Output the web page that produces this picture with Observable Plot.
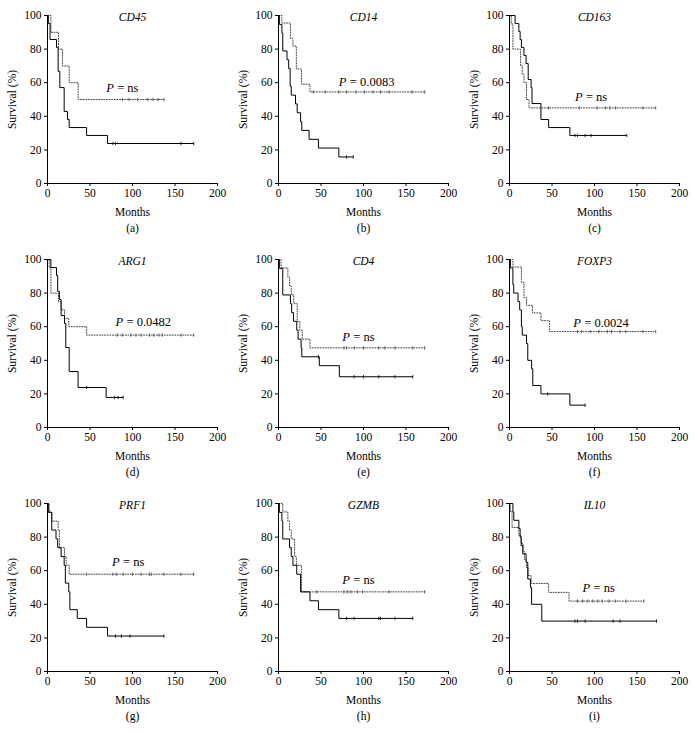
<!DOCTYPE html>
<html>
<head>
<meta charset="utf-8">
<script src="https://cdn.jsdelivr.net/npm/d3@7"></script>
<script src="https://cdn.jsdelivr.net/npm/@observablehq/plot@0.6"></script>
<style>
  html, body { margin: 0; padding: 0; background: #fff; }
  #grid { display: grid; grid-template-columns: 231px 231px 232px; grid-auto-rows: 244px; width: 694px; }
  #grid svg { display: block; }
</style>
</head>
<body>
<div id="grid"></div>
<script>
// ---- Data (months, survival %) ----
const genes = ["CD45", "CD14", "CD163", "ARG1", "CD4", "FOXP3", "PRF1", "GZMB", "IL10"];
const captions = ["(a)", "(b)", "(c)", "(d)", "(e)", "(f)", "(g)", "(h)", "(i)"];
const pValues = ["ns", "0.0083", "ns", "0.0482", "ns", "0.0024", "ns", "ns", "ns"];
// annotation anchor (data units: months, %)
const pLabelX = [69, 71, 77, 80, 75, 75, 76, 75, 86];
const pLabelY = [56, 60, 51, 62, 53, 61.5, 64.5, 54, 49];

// solid curve (event times, survival after each event, last follow-up, censored times)
const solidTimes = [
  [1, 3, 10.6, 12.5, 14.5, 19.6, 23.5, 25.5, 46, 70.6],
  [1, 4, 5, 10, 12, 13.7, 15, 20, 22, 26, 27.4, 36, 47, 71],
  [6.6, 11, 12.5, 14, 17, 19.5, 22, 25.4, 26.5, 37, 46, 71],
  [4, 10.6, 12, 14, 16, 20, 21.5, 25.5, 36, 69],
  [1, 5, 14, 15.5, 17.6, 21.5, 23, 26.6, 27.4, 48, 71.6],
  [1, 4, 5, 10, 12, 14, 15, 20, 21.5, 26, 27.4, 37, 71],
  [1, 5, 10, 12, 16, 19.6, 21, 25, 26.3, 35, 46, 70.6],
  [1, 4, 5, 13, 15, 17, 21.5, 26, 37, 47, 71],
  [4, 5, 11, 12.5, 13.7, 15.6, 19.5, 21.5, 24.6, 26, 38]
];
const solidSurv = [
  [95.2, 85.7, 81, 66.7, 57.1, 42.9, 38.1, 33.3, 28.6, 23.8],
  [94.7, 89.5, 78.9, 73.7, 68.4, 57.9, 52.6, 47.4, 42.1, 36.8, 31.6, 26.3, 21.1, 15.8],
  [95.2, 90.5, 85.7, 81, 76.2, 71.4, 61.9, 57.1, 47.6, 38.1, 33.3, 28.6],
  [95.2, 90.5, 81, 76.2, 66.7, 61.9, 47.6, 33.3, 23.8, 17.9],
  [94.7, 78.9, 73.7, 68.4, 63.2, 57.9, 52.6, 47.4, 42.1, 36.8, 30.2],
  [95, 85, 80, 75, 70, 60, 55, 50, 40, 35, 25, 20, 13.3],
  [94.7, 84.2, 78.9, 73.7, 68.4, 63.2, 52.6, 47.4, 36.8, 31.6, 26.3, 21.1],
  [94.7, 89.5, 78.9, 73.7, 68.4, 63.2, 57.9, 47.4, 42.1, 36.8, 31.6],
  [95, 90, 85, 80, 75, 70, 65, 55, 50, 40, 30]
];
const solidEnd = [172, 88, 138, 89, 158, 89, 137, 158, 173];
const solidCensor = [
  [77, 80, 157, 172],
  [80, 88],
  [77, 80, 89, 96, 138],
  [46, 79, 83, 89],
  [47, 89, 100, 118, 137, 158],
  [45, 89],
  [80, 87, 97, 137],
  [80, 89, 118, 120, 137, 158],
  [77, 80, 89, 122, 130, 173]
];

// dotted curve
const dottedTimes = [
  [4, 13, 17.6, 25.5, 36],
  [4, 14, 17, 21, 27, 37],
  [2, 4, 13, 15, 17, 20, 23],
  [2, 4, 13, 16, 20, 25, 46],
  [3, 11, 13, 15, 18, 22, 25, 28, 37],
  [4, 14, 17, 20, 27, 37, 47],
  [2, 5, 12.5, 14, 20, 22, 25.5],
  [5, 11, 13, 15, 19, 21, 27],
  [1, 3, 11, 13.7, 16, 17.6, 20, 22, 25.4, 46, 70]
];
const dottedSurv = [
  [90, 80, 70, 60, 50],
  [95.5, 86.4, 81.8, 68.2, 59.1, 54.5],
  [95, 80, 70, 65, 60, 50, 45],
  [95, 80, 75, 70, 65, 60, 55],
  [95, 89.5, 84.2, 78.9, 73.7, 63.2, 57.9, 52.6, 47.4],
  [95.5, 86.4, 77.3, 72.7, 68.2, 63.6, 57.1],
  [95, 89.5, 84.2, 73.7, 68.4, 63.2, 57.9],
  [95, 89.5, 84.2, 78.9, 68.4, 63.2, 47.4],
  [95.2, 85.7, 81, 76.2, 71.4, 66.7, 61.9, 57.1, 52.4, 47.1, 41.9]
];
const dottedEnd = [137, 172, 172, 172, 172, 172, 172, 172, 158];
const dottedCensor = [
  [88, 96, 106, 118, 124, 130, 137],
  [41, 55, 71, 80, 91, 101, 111, 120, 130, 157, 172],
  [46, 82, 103, 113, 118, 125, 157, 172],
  [82, 88, 98, 104, 110, 120, 125, 131, 135, 157, 172],
  [77, 80, 89, 100, 118, 125, 137, 158, 172],
  [80, 85, 95, 105, 115, 120, 130, 137, 157, 172],
  [46, 77, 81, 89, 100, 110, 120, 122, 137, 157, 172],
  [45, 77, 81, 85, 93, 99, 130, 172],
  [80, 86, 92, 98, 104, 109, 117, 125, 137, 158]
];

const xTicks = [0, 50, 100, 150, 200];
const yTicks = [0, 20, 40, 60, 80, 100];

// ---- helpers ----
function stepPoints(times, surv, end) {
  const pts = [{t: 0, s: 100}];
  times.forEach((t, i) => pts.push({t, s: surv[i]}));
  pts.push({t: end, s: surv[surv.length - 1]});
  return pts;
}
function survAt(times, surv, t) {
  let s = 100;
  for (let i = 0; i < times.length; i++) if (times[i] <= t) s = surv[i];
  return s;
}
const censorTick = {
  draw(context, size) {
    const h = Math.sqrt(size / Math.PI);
    context.moveTo(0, -h);
    context.lineTo(0, h);
  }
};

const grid = document.getElementById("grid");
genes.forEach((gene, k) => {
  const solid = stepPoints(solidTimes[k], solidSurv[k], solidEnd[k]);
  const dotted = stepPoints(dottedTimes[k], dottedSurv[k], dottedEnd[k]);
  const cs = solidCensor[k].map(t => ({t, s: survAt(solidTimes[k], solidSurv[k], t)}));
  const cd = dottedCensor[k].map(t => ({t, s: survAt(dottedTimes[k], dottedSurv[k], t)}));
  const lab = [{x: pLabelX[k], y: pLabelY[k]}];
  const chart = Plot.plot({
    width: 231,
    height: 244,
    marginLeft: 47,
    marginRight: 14,
    marginTop: 15,
    marginBottom: 61,
    style: {fontFamily: "Liberation Serif", fontSize: "11.5px", color: "#000", background: "#fff"},
    x: {domain: [0, 200], ticks: xTicks, tickSize: 3, tickPadding: 2, label: "Months", labelAnchor: "center", labelOffset: 32, labelArrow: false},
    y: {domain: [0, 100], ticks: yTicks, tickSize: 3, tickPadding: 3, label: "Survival (%)", labelAnchor: "center", labelOffset: 40, labelArrow: false},
    marks: [
      Plot.line(dotted, {x: "t", y: "s", curve: "step-after", stroke: "#444", strokeWidth: 1, strokeDasharray: "1,1.6"}),
      Plot.line(solid, {x: "t", y: "s", curve: "step-after", stroke: "#000", strokeWidth: 1}),
      Plot.dot(cd, {x: "t", y: "s", symbol: censorTick, r: 1.7, fill: "none", stroke: "#444", strokeWidth: 0.8}),
      Plot.dot(cs, {x: "t", y: "s", symbol: censorTick, r: 1.7, fill: "none", stroke: "#000", strokeWidth: 0.8}),
      Plot.ruleX([0], {stroke: "#000"}),
      Plot.ruleY([0], {stroke: "#000"}),
      Plot.text([gene], {frameAnchor: "top", dy: -3, fontStyle: "italic", fontSize: 11.5}),
      Plot.text([captions[k]], {frameAnchor: "bottom", dy: 48, fontSize: 11.5}),
      Plot.text(lab, {x: "x", y: "y", text: () => "P", fontStyle: "italic", textAnchor: "start", dy: -1, fontSize: 12.5}),
      Plot.text(lab, {x: "x", y: "y", text: () => "= " + pValues[k], textAnchor: "start", dx: 11, dy: -1, fontSize: 12.5})
    ]
  });
  grid.appendChild(chart);
});
</script>
</body>
</html>
